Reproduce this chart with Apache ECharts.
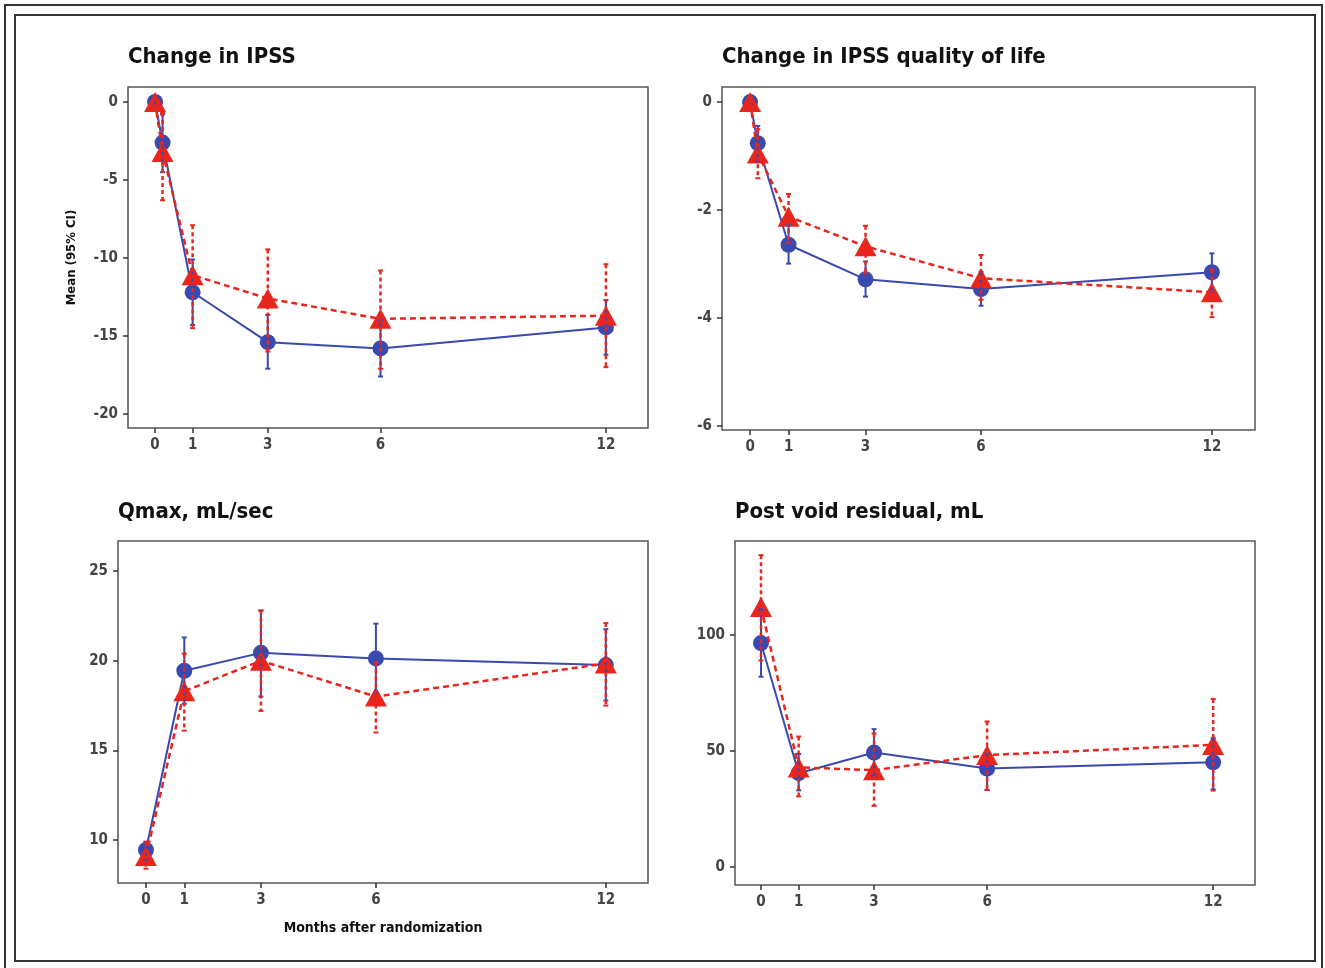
<!DOCTYPE html>
<html>
<head>
<meta charset="utf-8">
<script src="https://cdn.jsdelivr.net/npm/echarts@6/dist/echarts.min.js"></script>
<style>
html,body{margin:0;padding:0;background:#fff;}
#c{width:1325px;height:968px;}
</style>
</head>
<body>
<div id="c"></div>
<script>
// ---------- data ----------
const titles = ['Change in IPSS', 'Change in IPSS quality of life', 'Qmax, mL/sec', 'Post void residual, mL'];
const xTicks = [0, 1, 3, 6, 12];
const monthsTop = [0, 0.2, 1, 3, 6, 12];
const monthsBottom = [0, 1, 3, 6, 12];

// Panel 1: Change in IPSS
const ipssBlue   = [0, -2.6, -12.2, -15.4, -15.8, -14.45];
const ipssBlueLo = [-0.3, -4.5, -14.3, -17.1, -17.6, -16.2];
const ipssBlueHi = [0.3, -0.8, -10.1, -13.65, -14.0, -12.7];
const ipssRed    = [0, -3.2, -11.1, -12.6, -13.9, -13.7];
const ipssRedLo  = [-0.3, -6.3, -14.5, -16.0, -17.1, -17.0];
const ipssRedHi  = [0.3, -0.7, -7.9, -9.45, -10.8, -10.4];

// Panel 2: Change in IPSS quality of life
const qolBlue   = [0, -0.76, -2.64, -3.28, -3.46, -3.15];
const qolBlueLo = [-0.05, -1.1, -2.99, -3.6, -3.77, -3.51];
const qolBlueHi = [0.05, -0.44, -2.27, -2.95, -3.14, -2.8];
const qolRed    = [0, -0.95, -2.12, -2.67, -3.26, -3.52];
const qolRedLo  = [-0.05, -1.41, -2.6, -3.17, -3.66, -3.98];
const qolRedHi  = [0.05, -0.5, -1.7, -2.29, -2.83, -3.1];

// Panel 3: Qmax
const qmaxBlue   = [9.44, 19.44, 20.44, 20.13, 19.76];
const qmaxBlueLo = [8.9, 17.6, 18.0, 18.2, 17.78];
const qmaxBlueHi = [9.9, 21.3, 22.8, 22.07, 21.76];
const qmaxRed    = [9.1, 18.3, 20.0, 18.0, 19.85];
const qmaxRedLo  = [8.4, 16.1, 17.2, 16.0, 17.5];
const qmaxRedHi  = [9.9, 20.4, 22.8, 19.9, 22.1];

// Panel 4: Post void residual
const pvrBlue   = [96.5, 40.4, 49.3, 42.4, 45.1];
const pvrBlueLo = [82, 33, 39.4, 33.2, 33.4];
const pvrBlueHi = [111, 48.7, 59.4, 49, 55.5];
const pvrRed    = [112, 42.9, 41.7, 48.2, 52.6];
const pvrRedLo  = [89, 30.4, 26.3, 33.2, 32.9];
const pvrRedHi  = [134.4, 56.2, 57.5, 62.7, 72.4];

const yTicks = [
  [0, -5, -10, -15, -20],
  [0, -2, -4, -6],
  [10, 15, 20, 25],
  [0, 50, 100]
];
const yLabel = 'Mean (95% CI)';
const xLabel = 'Months after randomization';

// ---------- layout ----------
const FONT = "'Liberation Sans Narrow','Arial Narrow','DejaVu Sans Condensed',sans-serif";
const BLUE = '#3a49ad';
const RED = '#e8261e';
const grids = [
  {left:128, top:87, width:520, height:341},
  {left:722, top:87, width:533, height:343},
  {left:118, top:541, width:530, height:342},
  {left:735, top:541, width:520, height:344}
];
const xRanges = [[-0.72, 13.12], [-0.73, 13.12], [-0.73, 13.1], [-0.69, 13.11]];
const yRanges = [[-20.9, 0.96], [-6.07, 0.28], [7.6, 26.68], [-7.8, 140.5]];

const panels = [
  {x: monthsTop, b: ipssBlue, bl: ipssBlueLo, bh: ipssBlueHi, r: ipssRed, rl: ipssRedLo, rh: ipssRedHi},
  {x: monthsTop, b: qolBlue, bl: qolBlueLo, bh: qolBlueHi, r: qolRed, rl: qolRedLo, rh: qolRedHi},
  {x: monthsBottom, b: qmaxBlue, bl: qmaxBlueLo, bh: qmaxBlueHi, r: qmaxRed, rl: qmaxRedLo, rh: qmaxRedHi},
  {x: monthsBottom, b: pvrBlue, bl: pvrBlueLo, bh: pvrBlueHi, r: pvrRed, rl: pvrRedLo, rh: pvrRedHi}
];

const zip = (xs, ys) => xs.map((x, i) => [x, ys[i]]);
const zip3 = (xs, lo, hi) => xs.map((x, i) => [x, lo[i], hi[i]]);

function errRender(color, dashed) {
  return function (params, api) {
    const x = api.value(0), lo = api.value(1), hi = api.value(2);
    const a = api.coord([x, hi]), b = api.coord([x, lo]);
    const st = {stroke: color, lineWidth: dashed ? 2.5 : 2, lineDash: dashed ? [4, 3] : null};
    const cw = 2.5;
    return {
      type: 'group',
      children: [
        {type: 'line', shape: {x1: a[0], y1: a[1], x2: b[0], y2: b[1]}, style: st},
        {type: 'line', shape: {x1: a[0] - cw, y1: a[1], x2: a[0] + cw, y2: a[1]}, style: {stroke: color, lineWidth: 2}},
        {type: 'line', shape: {x1: b[0] - cw, y1: b[1], x2: b[0] + cw, y2: b[1]}, style: {stroke: color, lineWidth: 2}}
      ]
    };
  };
}

const xAxes = [], yAxes = [], series = [];
panels.forEach((p, i) => {
  xAxes.push({
    type: 'value', gridIndex: i, min: xRanges[i][0], max: xRanges[i][1],
    axisLine: {show: false, onZero: false},
    splitLine: {show: false},
    axisTick: {show: true, customValues: xTicks, length: 5, lineStyle: {color: '#333', width: 1.5}},
    axisLabel: {customValues: xTicks, color: '#444', fontFamily: FONT, fontWeight: 'bold', fontSize: 15, margin: 10},
    name: i === 2 ? xLabel : '', nameLocation: 'middle', nameGap: 38,
    nameTextStyle: {color: '#111', fontFamily: FONT, fontWeight: 'bold', fontSize: 14}
  });
  yAxes.push({
    type: 'value', gridIndex: i, min: yRanges[i][0], max: yRanges[i][1],
    axisLine: {show: false, onZero: false},
    splitLine: {show: false},
    axisTick: {show: true, customValues: yTicks[i], length: 5, lineStyle: {color: '#333', width: 1.5}},
    axisLabel: {customValues: yTicks[i], color: '#444', fontFamily: FONT, fontWeight: 'bold', fontSize: 15, margin: 10},
    name: i === 0 ? yLabel : '', nameLocation: 'middle', nameGap: 50,
    nameTextStyle: {color: '#111', fontFamily: FONT, fontWeight: 'bold', fontSize: 13}
  });
  series.push({
    type: 'line', xAxisIndex: i, yAxisIndex: i, data: zip(p.x, p.b),
    symbol: 'circle', symbolSize: 16, showSymbol: true,
    lineStyle: {color: BLUE, width: 2}, itemStyle: {color: BLUE},
    z: 2, silent: true, animation: false
  });
  series.push({
    type: 'line', xAxisIndex: i, yAxisIndex: i, data: zip(p.x, p.r),
    symbol: 'triangle', symbolSize: [22, 20], showSymbol: true,
    lineStyle: {color: RED, width: 2.5, type: [6, 4]}, itemStyle: {color: RED},
    z: 3, silent: true, animation: false
  });
  series.push({
    type: 'custom', xAxisIndex: i, yAxisIndex: i, data: zip3(p.x, p.bl, p.bh),
    renderItem: errRender(BLUE, false), z: 4, silent: true, animation: false
  });
  series.push({
    type: 'custom', xAxisIndex: i, yAxisIndex: i, data: zip3(p.x, p.rl, p.rh),
    renderItem: errRender(RED, true), z: 5, silent: true, animation: false
  });
});

const titleOpts = [
  {left: 128, top: 46}, {left: 722, top: 46}, {left: 118, top: 501}, {left: 735, top: 501}
].map((pos, i) => ({
  text: titles[i], left: pos.left, top: pos.top, padding: 0,
  textStyle: {fontFamily: FONT, fontWeight: 'bold', fontSize: 22, color: '#111'}
}));

const chart = echarts.init(document.getElementById('c'), null, {renderer: 'canvas'});
chart.setOption({
  animation: false,
  backgroundColor: '#fff',
  title: titleOpts,
  grid: grids.map(g => Object.assign({show: true, borderColor: '#555', borderWidth: 1.5, backgroundColor: 'transparent'}, g)),
  xAxis: xAxes,
  yAxis: yAxes,
  series: series,
  graphic: [
    {type: 'rect', shape: {x: 5, y: 5, width: 1317, height: 970}, style: {fill: 'none', stroke: '#333', lineWidth: 2}, silent: true},
    {type: 'rect', shape: {x: 15, y: 15, width: 1300, height: 946}, style: {fill: 'none', stroke: '#333', lineWidth: 2}, silent: true}
  ]
});
</script>
</body>
</html>
